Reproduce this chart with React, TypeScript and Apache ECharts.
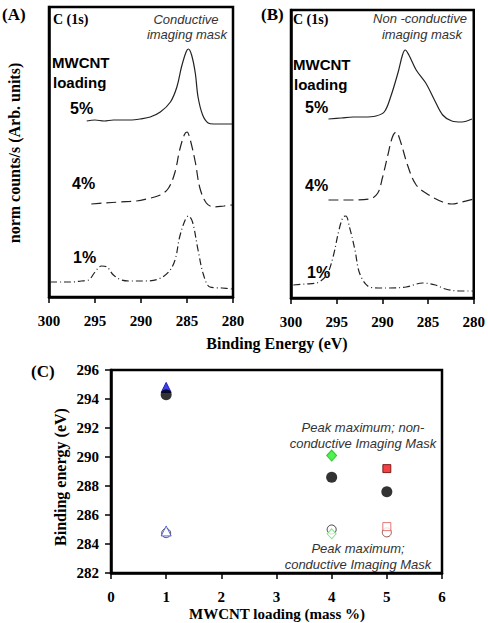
import React, { useEffect, useRef } from "react";
import * as echarts from "echarts";

// ---- Spectra data: [binding energy (eV), normalised counts (arb.)] ----
const conductive5 = [[295.9,176],[295,177],[294,176],[293,177],[292,177],[291,177],[290.1,178],[289,180],[287.9,185],[286.8,195],[286.1,210],[285.6,230],[285.1,245],[284.85,248],[284.5,242],[284.1,224],[283.8,200],[283.3,182],[282.7,174],[282.1,173],[281,173],[280.1,173]];
const conductive4 = [[295.4,93],[294,94],[292.3,95],[290.5,96],[289.4,98],[287.9,102],[287,109],[286.3,125],[285.8,147],[285.3,162],[285,165],[284.7,159],[284.1,135],[283.6,109],[282.9,94],[282.1,90],[281,91],[280.1,92]];
const conductive1 = [[299.9,15],[298.5,15],[297.5,15],[296.5,16],[295.7,17],[295,25],[294.3,31],[293.7,30],[293,22],[292.1,17],[291,16],[289.6,16],[288.1,18],[287,25],[286.3,37],[285.8,60],[285.2,77],[284.85,81],[284.4,75],[283.8,47],[283.2,22],[282.5,10],[281.2,9],[280,8]];

const nonConductive5 = [[295.9,179],[294.5,180],[293.2,181],[292,181],[290.7,182],[289.8,186],[289.1,201],[288.3,225],[287.8,243],[287.5,248],[287.1,243],[286.3,228],[285.25,215],[284.3,198],[283.4,183],[282.4,177],[281.3,176],[280.2,179]];
const nonConductive4 = [[295.9,98],[293.5,98],[291.4,99],[290.5,105],[290,120],[289.4,143],[288.9,161],[288.5,166],[288,156],[287.25,133],[286.3,113],[284.9,103],[283.4,96],[282.4,94],[281.3,96],[280,99]];
const nonConductive1 = [[299.75,13],[298.5,14],[297.2,15],[296.1,23],[295.4,41],[294.75,68],[294.3,81],[294,82],[293.6,71],[293,48],[292.5,25],[291.6,12],[290.5,10],[289.2,10],[287.4,11],[285.6,15],[284.2,13],[283.1,9],[281.6,7],[280,7]];

// ---- Panel C data ----
const loading = [1, 4, 5];
const filledPeak = [294.8, 290.1, 289.2];
const filledCircle = [294.3, 288.6, 287.6];
const openPeak = [284.9, 284.7, 285.2];
const openCircle = [284.75, 285.0, 284.8];
const peakSymbols = ["triangle", "diamond", "rect"];
const filledColors = ["#1010ee", "#22ee22", "#ee1111"];
const filledBorders = ["#0000aa", "#11bb11", "#660000"];
const openColors = ["#3344cc", "#66dd66", "#e05555"];
const openCircleColors = ["#333333", "#111111", "#7a2a2a"];

const SERIF = '"Liberation Serif", "Times New Roman", serif';
const SANS = '"Liberation Sans", Arial, sans-serif';

function txt(text: string, x: number, y: number, font: string, align = "left", extra: any = {}) {
  return {
    type: "text",
    x,
    y,
    rotation: extra.rotation || 0,
    style: {
      text,
      font,
      fill: extra.fill || "#000",
      textAlign: align,
      align,
      textVerticalAlign: "middle",
      verticalAlign: "middle",
    },
  };
}

export default function App() {
  const ref = useRef<HTMLDivElement>(null);
  useEffect(() => {
    if (!ref.current) return;
    const chart = echarts.init(ref.current, null, { renderer: "svg" });
    const specXAxis = (gridIndex: number) => ({
      gridIndex,
      type: "value",
      min: 280,
      max: 300,
      interval: 5,
      inverse: true,
      axisLine: { show: true, lineStyle: { color: "#000", width: 2.5 } },
      axisTick: { show: true, inside: false, length: 6, lineStyle: { color: "#000", width: 1.5 } },
      axisLabel: { show: true, margin: 16, color: "#000", fontFamily: SERIF, fontWeight: "bold", fontSize: 15 },
      splitLine: { show: false },
    });
    const specYAxis = (gridIndex: number, max: number) => ({
      gridIndex,
      type: "value",
      min: 0,
      max,
      axisLine: { show: true, lineStyle: { color: "#000", width: 2.5 } },
      axisTick: { show: false },
      axisLabel: { show: false },
      splitLine: { show: false },
    });
    const lineSeries = (data: number[][], xi: number, type: any) => ({
      type: "line",
      xAxisIndex: xi,
      yAxisIndex: xi,
      data,
      showSymbol: false,
      smooth: 0.35,
      lineStyle: { color: "#222", width: 1.2, type },
    });
    const dash = [10, 5];
    const dashDot = [7, 3, 1, 3];

    const scatterItems = (vals: number[], mk: (i: number) => any) =>
      vals.map((v, i) => ({ value: [loading[i], v], ...mk(i) }));

    chart.setOption({
      animation: false,
      grid: [
        { left: 49, top: 7, width: 184, height: 290, show: true, borderColor: "#000", borderWidth: 2.5 },
        { left: 291, top: 10, width: 184, height: 288, show: true, borderColor: "#000", borderWidth: 2.5 },
        { left: 111, top: 370, width: 331, height: 203, show: true, borderColor: "#000", borderWidth: 2.5 },
      ],
      xAxis: [
        specXAxis(0),
        specXAxis(1),
        {
          gridIndex: 2,
          type: "value",
          min: 0,
          max: 6,
          interval: 1,
          axisLine: { show: true, lineStyle: { color: "#000", width: 2.5 } },
          axisTick: { show: true, inside: false, length: 6, lineStyle: { color: "#000", width: 1.5 } },
          axisLabel: { margin: 16, color: "#000", fontFamily: SERIF, fontWeight: "bold", fontSize: 15 },
          splitLine: { show: false },
        },
      ],
      yAxis: [
        specYAxis(0, 290),
        specYAxis(1, 288),
        {
          gridIndex: 2,
          type: "value",
          min: 282,
          max: 296,
          interval: 2,
          axisLine: { show: true, lineStyle: { color: "#000", width: 2.5 } },
          axisTick: { show: true, inside: false, length: 6, lineStyle: { color: "#000", width: 1.5 } },
          axisLabel: { margin: 12, color: "#000", fontFamily: SERIF, fontWeight: "bold", fontSize: 15 },
          splitLine: { show: false },
        },
      ],
      series: [
        lineSeries(conductive5, 0, "solid"),
        lineSeries(conductive4, 0, dash),
        lineSeries(conductive1, 0, dashDot),
        lineSeries(nonConductive5, 1, "solid"),
        lineSeries(nonConductive4, 1, dash),
        lineSeries(nonConductive1, 1, dashDot),
        {
          type: "scatter",
          xAxisIndex: 2,
          yAxisIndex: 2,
          z: 3,
          data: scatterItems(openCircle, (i) => ({
            symbol: "circle",
            symbolSize: 9,
            itemStyle: { color: "#fff", borderColor: openCircleColors[i], borderWidth: 1 },
          })),
        },
        {
          type: "scatter",
          xAxisIndex: 2,
          yAxisIndex: 2,
          z: 4,
          data: scatterItems(openPeak, (i) => ({
            symbol: peakSymbols[i],
            symbolSize: i === 2 ? 8 : i === 1 ? [9, 10] : 10,
            itemStyle: { color: "#fff", borderColor: openColors[i], borderWidth: 1 },
          })),
        },
        {
          type: "scatter",
          xAxisIndex: 2,
          yAxisIndex: 2,
          z: 5,
          data: scatterItems(filledPeak, (i) => ({
            symbol: peakSymbols[i],
            symbolSize: i === 2 ? 8 : i === 1 ? [10, 11] : 10,
            itemStyle: { color: filledColors[i], borderColor: filledBorders[i], borderWidth: 1 },
          })),
        },
        {
          type: "scatter",
          xAxisIndex: 2,
          yAxisIndex: 2,
          z: 6,
          data: scatterItems(filledCircle, () => ({
            symbol: "circle",
            symbolSize: 11,
            itemStyle: { color: "#000", borderColor: "#000", borderWidth: 0 },
          })),
        },
      ],
      graphic: [
        // Panel A
        txt("(A)", 2, 14, `bold 17px ${SERIF}`),
        txt("C (1s)", 53, 19, `bold 14px ${SERIF}`),
        txt("Conductive", 186, 19, `italic 13px ${SANS}`, "center", { fill: "#333" }),
        txt("imaging mask", 187, 34, `italic 13px ${SANS}`, "center", { fill: "#333" }),
        txt("MWCNT", 52, 62, `bold 15px ${SANS}`),
        txt("loading", 53, 82, `bold 15px ${SANS}`),
        txt("5%", 70, 108, `bold 16px ${SANS}`),
        txt("4%", 72, 183, `bold 16px ${SANS}`),
        txt("1%", 73, 257, `bold 16px ${SANS}`),
        txt("norm counts/s (Arb. units)", 14, 153, `bold 16px ${SERIF}`, "center", { rotation: Math.PI / 2 }),
        // Panel B
        txt("(B)", 261, 14, `bold 17px ${SERIF}`),
        txt("C (1s)", 293, 19, `bold 14px ${SERIF}`),
        txt("Non -conductive", 420, 18, `italic 13px ${SANS}`, "center", { fill: "#333" }),
        txt("imaging mask", 422, 34, `italic 13px ${SANS}`, "center", { fill: "#333" }),
        txt("MWCNT", 293, 64, `bold 15px ${SANS}`),
        txt("loading", 294, 84, `bold 15px ${SANS}`),
        txt("5%", 305, 107, `bold 16px ${SANS}`),
        txt("4%", 305, 185, `bold 16px ${SANS}`),
        txt("1%", 307, 272, `bold 16px ${SANS}`),
        txt("Binding Energy (eV)", 277, 343, `bold 16px ${SERIF}`, "center"),
        // Panel C
        txt("(C)", 31, 371, `bold 17px ${SERIF}`),
        txt("Peak maximum; non-", 363, 427, `italic 13px ${SANS}`, "center", { fill: "#333" }),
        txt("conductive Imaging Mask", 363, 443, `italic 13px ${SANS}`, "center", { fill: "#333" }),
        txt("Peak maximum;", 358, 548, `italic 13px ${SANS}`, "center", { fill: "#333" }),
        txt("conductive Imaging Mask", 358, 564, `italic 13px ${SANS}`, "center", { fill: "#333" }),
        txt("Binding energy (eV)", 60, 477, `bold 16px ${SERIF}`, "center", { rotation: Math.PI / 2 }),
        txt("MWCNT loading (mass %)", 277, 614, `bold 15px ${SERIF}`, "center"),
      ],
    });
    return () => chart.dispose();
  }, []);
  return (
    <div
      ref={ref}
      style={{ position: "absolute", left: 0, top: 0, width: 488, height: 623, background: "#fff" }}
    />
  );
}
